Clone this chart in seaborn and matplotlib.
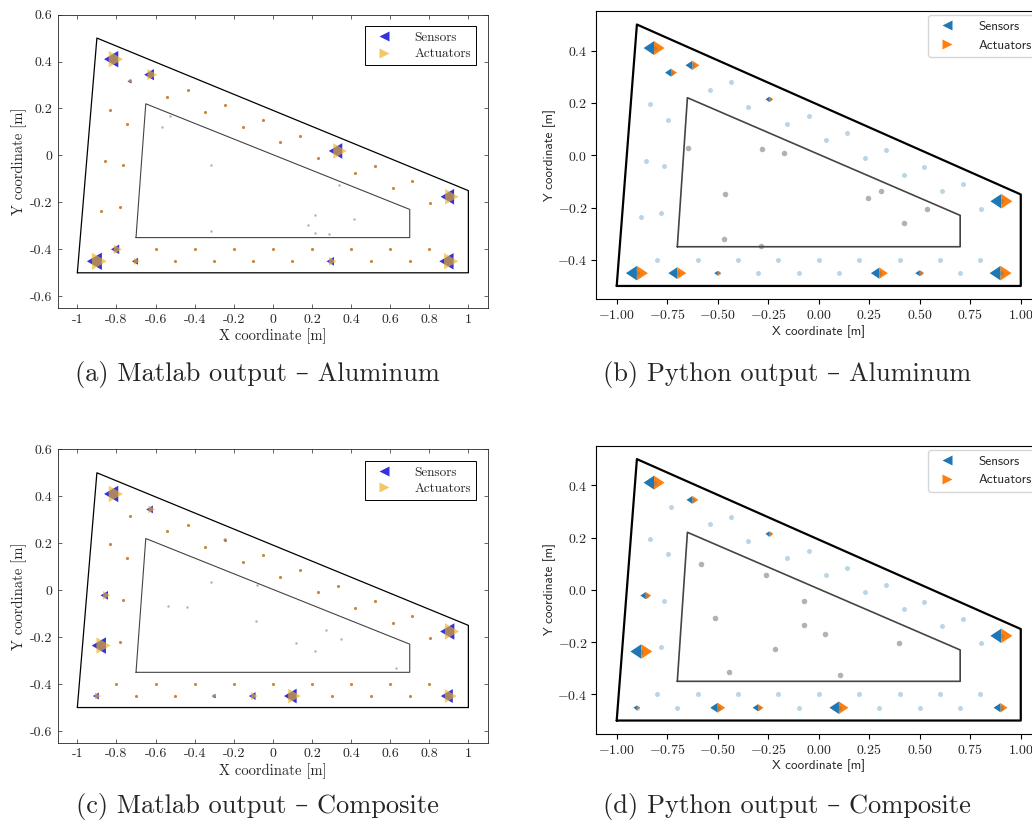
import numpy as np
import pandas as pd
import matplotlib
matplotlib.use("Agg")
import matplotlib.pyplot as plt
from matplotlib.lines import Line2D
import seaborn as sns

# plate outline (outer edge and cut-out)
outer_x = [-1.0, -0.9, 1.0, 1.0, -1.0]
outer_y = [-0.5, 0.5, -0.15, -0.5, -0.5]
inner_x = [-0.7, -0.65, 0.7, 0.7, -0.7]
inner_y = [-0.35, 0.22, -0.23, -0.35, -0.35]

# candidate nodes (same grid in every panel)
node_x = ([-0.9, -0.7, -0.5, -0.3, -0.1, 0.1, 0.3, 0.5, 0.7, 0.9]
          + [-0.8, -0.6, -0.4, -0.2, 0.0, 0.2, 0.4, 0.6, 0.8]
          + [0.904, 0.804]
          + [0.713, 0.523, 0.332, 0.14, -0.05, -0.244, -0.432, -0.625, -0.815]
          + [0.612, 0.421, 0.229, 0.036, -0.155, -0.348, -0.54, -0.731]
          + [-0.835, -0.748, -0.856, -0.764, -0.878, -0.78])
node_y = ([-0.451] * 10
          + [-0.40] * 9
          + [-0.176, -0.204]
          + [-0.111, -0.046, 0.019, 0.084, 0.149, 0.214, 0.279, 0.344, 0.41]
          + [-0.138, -0.074, -0.009, 0.057, 0.121, 0.186, 0.251, 0.316]
          + [0.195, 0.136, -0.022, -0.042, -0.236, -0.220])

# sensor / actuator placement, weight = marker width in px
sens_a_x = [-0.815, -0.625, -0.731, 0.332, 0.904, -0.9, -0.8, -0.7, 0.3, 0.9]
sens_a_y = [0.41, 0.344, 0.316, 0.019, -0.176, -0.451, -0.40, -0.451, -0.451, -0.451]
sens_a_w = [19, 13, 5, 18, 18, 20, 11, 8, 10, 19]

sens_b_x = [-0.815, -0.731, -0.625, -0.244, 0.904, -0.9, -0.7, -0.5, 0.3, 0.5, 0.9]
sens_b_y = [0.41, 0.316, 0.344, 0.214, -0.176, -0.451, -0.451, -0.451, -0.451, -0.451, -0.451]
sens_b_w = [21, 12, 14, 8, 22, 22, 18, 7, 17, 9, 22]

sens_c_x = [-0.815, -0.625, -0.244, -0.856, -0.878, -0.9, -0.3, -0.1, 0.1, 0.904, 0.9]
sens_c_y = [0.41, 0.344, 0.214, -0.022, -0.236, -0.451, -0.451, -0.451, -0.451, -0.176, -0.451]
sens_c_w = [19, 9, 4, 10, 19, 8, 5, 9, 17, 19, 16]

sens_d_x = [-0.815, -0.625, -0.244, -0.856, -0.878, -0.9, -0.5, -0.3, 0.1, 0.904, 0.9]
sens_d_y = [0.41, 0.344, 0.214, -0.022, -0.236, -0.451, -0.451, -0.451, -0.451, -0.176, -0.451]
sens_d_w = [21, 12, 8, 11, 22, 7, 15, 11, 19, 22, 14]

# interior points (grey)
pts_a_x = [-0.526, -0.567, -0.315, 0.338, 0.216, 0.182, 0.216, 0.287, 0.417, -0.315]
pts_a_y = [0.170, 0.120, -0.039, -0.127, -0.253, -0.296, -0.330, -0.333, -0.271, -0.323]
pts_b_x = [-0.647, -0.281, -0.173, -0.462, 0.246, 0.309, 0.536, 0.421, -0.467, -0.284]
pts_b_y = [0.029, 0.024, 0.010, -0.148, -0.164, -0.135, -0.204, -0.259, -0.320, -0.348]
pts_c_x = [-0.315, -0.08, -0.534, -0.44, -0.088, 0.27, 0.349, 0.117, 0.216, 0.63]
pts_c_y = [0.035, 0.02, -0.067, -0.072, -0.133, -0.17, -0.206, -0.223, -0.258, -0.331]
pts_d_x = [-0.585, -0.263, -0.073, -0.512, -0.074, 0.033, 0.395, -0.217, -0.446, 0.107]
pts_d_y = [0.099, 0.056, -0.041, -0.106, -0.135, -0.168, -0.205, -0.227, -0.315, -0.324]

captions = ["(a) Matlab output – Aluminum", "(b) Python output – Aluminum",
            "(c) Matlab output – Composite", "(d) Python output – Composite"]

sns.set_style("ticks")
plt.rcParams["mathtext.fontset"] = "cm"
plt.rcParams["axes.unicode_minus"] = False
SERIF = ["cmr10", "DejaVu Serif"]
SANS = ["cmss10", "DejaVu Sans"]

DPI = 100
def w2s(w):
    # marker width in pixels -> scatter area in pt^2
    return (np.asarray(w, dtype=float) * 72 / DPI) ** 2

tri_l = [(-1, 0), (0.5, 0.866), (0.5, -0.866)]
tri_r = [(1, 0), (-0.5, 0.866), (-0.5, -0.866)]
half_l = [(-1, 0), (0, 0.66), (0, -0.66)]
half_r = [(1, 0), (0, 0.66), (0, -0.66)]


def draw_matlab(ax, sx, sy, sw, px, py):
    ax.plot(outer_x, outer_y, color="black", lw=0.9)
    ax.plot(inner_x, inner_y, color="#444444", lw=0.8)
    sns.scatterplot(x=px, y=py, color="#b0b0b0", s=3, linewidth=0, ax=ax, legend=False)
    sns.scatterplot(x=node_x, y=node_y, color="#c8863a", s=5, linewidth=0, ax=ax, legend=False)
    sns.scatterplot(x=sx, y=sy, marker=tri_l, s=w2s(sw), color="#3333dd",
                    linewidth=0, ax=ax, legend=False)
    sns.scatterplot(x=sx, y=sy, marker=tri_r, s=w2s(sw), color="#edb120", alpha=0.65,
                    linewidth=0, ax=ax, legend=False)
    ax.set_xlim(-1.1, 1.1)
    ax.set_ylim(-0.65, 0.6)
    xt = np.round(np.arange(-1, 1.01, 0.2), 1)
    yt = np.round(np.arange(-0.6, 0.61, 0.2), 1)
    ax.set_xticks(xt)
    ax.set_yticks(yt)
    ax.set_xticklabels(["0" if v == 0 else ("%g" % v) for v in xt], family=SERIF, fontsize=10)
    ax.set_yticklabels(["0" if v == 0 else ("%g" % v) for v in yt], family=SERIF, fontsize=10)
    ax.tick_params(direction="in", length=3, width=0.5, top=True, right=True,
                   color="#262626", pad=4)
    for sp in ax.spines.values():
        sp.set_linewidth(0.6)
        sp.set_color("#262626")
    ax.set_xlabel("X coordinate [m]", family=SERIF, fontsize=10.5, labelpad=2)
    ax.set_ylabel("Y coordinate [m]", family=SERIF, fontsize=10.5, labelpad=2)
    hs = [Line2D([], [], ls="none", marker="<", ms=7, color="#3333dd", mec="none"),
          Line2D([], [], ls="none", marker=">", ms=7, color="#edb120", alpha=0.7, mec="none")]
    leg = ax.legend(hs, ["Sensors", "Actuators"], loc="upper right", fancybox=False,
                    edgecolor="black", framealpha=1, prop={"family": SERIF, "size": 9.5},
                    borderaxespad=0.9, handletextpad=1.3, borderpad=0.4,
                    labelspacing=0.3)
    leg.get_frame().set_linewidth(0.7)


def draw_python(ax, sx, sy, sw, px, py):
    ax.plot(outer_x, outer_y, color="black", lw=1.6)
    ax.plot(inner_x, inner_y, color="#444444", lw=1.2)
    sns.scatterplot(x=sx, y=sy, marker=half_l, s=w2s(sw), color="#1f77b4",
                    linewidth=0, ax=ax, legend=False)
    sns.scatterplot(x=sx, y=sy, marker=half_r, s=w2s(sw), color="#ff7f0e",
                    linewidth=0, ax=ax, legend=False)
    sns.scatterplot(x=node_x, y=node_y, color="#1f77b4", alpha=0.3, s=13,
                    linewidth=0, ax=ax, legend=False)
    sns.scatterplot(x=px, y=py, color="gray", alpha=0.6, s=16, linewidth=0, ax=ax, legend=False)
    ax.set_xlim(-1.1, 1.1)
    ax.set_ylim(-0.55, 0.55)
    xt = np.arange(-1, 1.01, 0.25)
    yt = np.round(np.arange(-0.4, 0.41, 0.2), 1)
    ax.set_xticks(xt)
    ax.set_yticks(yt)
    ax.set_xticklabels([r"$%.2f$" % v for v in xt], fontsize=10)
    ax.set_yticklabels([r"$%.1f$" % (v + 0.0) for v in yt], fontsize=10)
    ax.tick_params(direction="out", length=3.5, width=0.8, color="black", pad=3)
    for sp in ax.spines.values():
        sp.set_linewidth(0.8)
        sp.set_color("black")
    ax.set_xlabel("X coordinate [m]", family=SANS, fontsize=9.5, labelpad=2)
    ax.set_ylabel("Y coordinate [m]", family=SANS, fontsize=9.5, labelpad=1)
    hs = [Line2D([], [], ls="none", marker="<", ms=7, color="#1f77b4", mec="none"),
          Line2D([], [], ls="none", marker=">", ms=7, color="#ff7f0e", mec="none")]
    ax.legend(hs, ["Sensors", "Actuators"], loc="upper right", borderaxespad=0.3,
              prop={"family": SANS, "size": 9.5}, handletextpad=1.4)


fig = plt.figure(figsize=(10.32, 8.24), dpi=DPI)
ax_a = fig.add_axes([0.0560, 0.6262, 0.4168, 0.3561])
ax_b = fig.add_axes([0.5780, 0.6371, 0.4307, 0.3490])
ax_c = fig.add_axes([0.0560, 0.0986, 0.4168, 0.3561])
ax_d = fig.add_axes([0.5780, 0.1097, 0.4307, 0.3490])

draw_matlab(ax_a, sens_a_x, sens_a_y, sens_a_w, pts_a_x, pts_a_y)
draw_python(ax_b, sens_b_x, sens_b_y, sens_b_w, pts_b_x, pts_b_y)
draw_matlab(ax_c, sens_c_x, sens_c_y, sens_c_w, pts_c_x, pts_c_y)
draw_python(ax_d, sens_d_x, sens_d_y, sens_d_w, pts_d_x, pts_d_y)

cap_pos = [(257 / 1032, 1 - 374 / 824), (787 / 1032, 1 - 374 / 824),
           (257 / 1032, 1 - 807 / 824), (787 / 1032, 1 - 807 / 824)]
for (cx, cy), txt in zip(cap_pos, captions):
    fig.text(cx, cy, txt, ha="center", va="center", family=SERIF, fontsize=19)

fig.savefig("out.png", dpi=DPI)
